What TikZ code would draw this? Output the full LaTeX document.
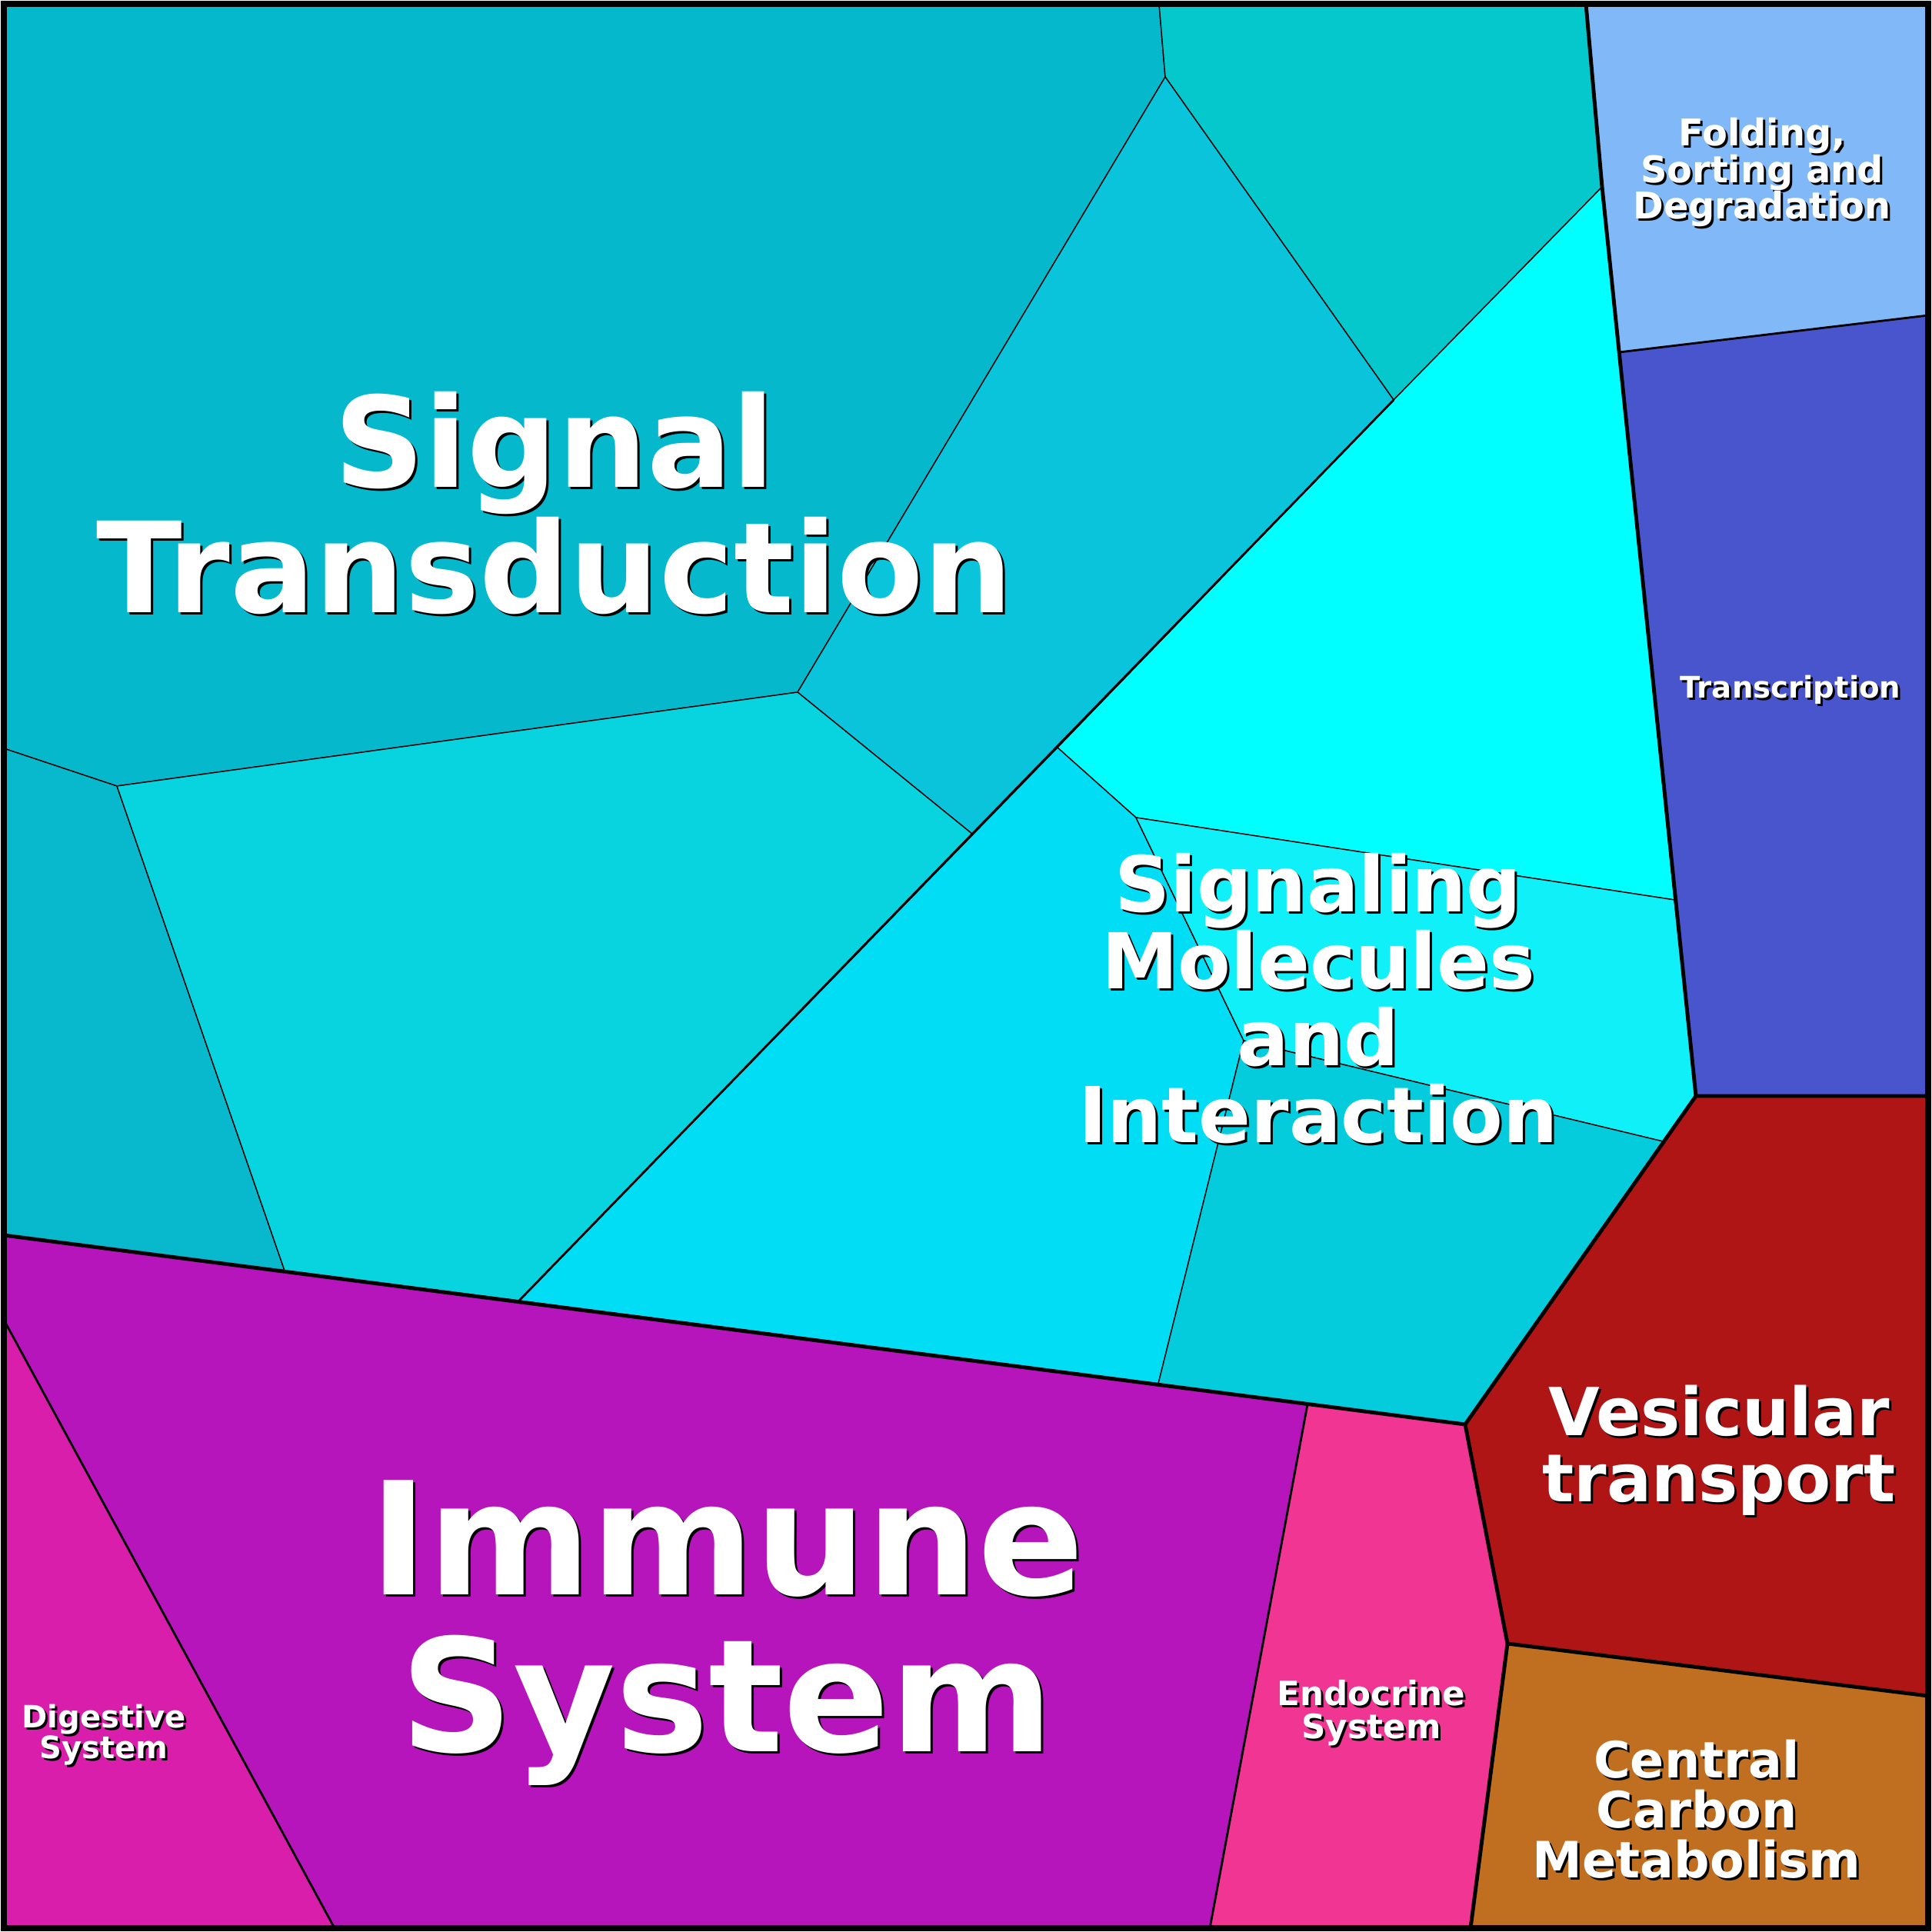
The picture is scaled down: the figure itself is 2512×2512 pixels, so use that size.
\documentclass[tikz,border=0pt]{standalone}
\usepackage{fontspec}
\setmainfont{DejaVu Sans}
\newcommand\mylbl[4]{%
  \node[shd,font=\fontsize{#3}{#3}\selectfont\bfseries] at ([shift={(3,3)}]#2) {#4};
  \node[lbl,font=\fontsize{#3}{#3}\selectfont\bfseries] (#1) at (#2) {#4};}
\begin{document}
\begin{tikzpicture}[x=0.01cm,y=-0.01cm,
  cell/.style={draw=black,line width=0.4pt,line join=round},
  lbl/.style={text=white,align=center,inner sep=0pt},
  shd/.style={text=black,align=center,inner sep=0pt}]
\useasboundingbox (0,0) rectangle (2512,2512);
\definecolor{cA}{HTML}{05B8CC}\definecolor{cB}{HTML}{05C8CC}
\definecolor{cC}{HTML}{0AC4DC}\definecolor{cD}{HTML}{00FFFF}
\definecolor{cE}{HTML}{08B8CC}\definecolor{cF}{HTML}{08D4E0}
\definecolor{cG}{HTML}{00DDF5}\definecolor{cH}{HTML}{10F0F8}
\definecolor{cI}{HTML}{05CCDC}\definecolor{cJ}{HTML}{80B8F8}
\definecolor{cK}{HTML}{4855CC}\definecolor{cL}{HTML}{B01515}
\definecolor{cM}{HTML}{C06E20}\definecolor{cN}{HTML}{F03592}
\definecolor{cO}{HTML}{B515BB}\definecolor{cP}{HTML}{D81EAA}
\fill[cell,fill=cA] (5,5)--(1507,5)--(1515,100)--(1037,900)--(152,1022)--(5,973)--cycle;
\fill[cell,fill=cB] (1507,5)--(2062,5)--(2083,243)--(1812,520)--(1515,100)--cycle;
\fill[cell,fill=cC] (1515,100)--(1812,520)--(1265,1085)--(1037,900)--cycle;
\fill[cell,fill=cD] (1812,520)--(2083,243)--(2177,1170)--(1477,1063)--(1375,972)--cycle;
\fill[cell,fill=cE] (5,973)--(152,1022)--(370,1652)--(5,1606)--cycle;
\fill[cell,fill=cF] (152,1022)--(1037,900)--(1265,1085)--(675,1691)--(370,1652)--cycle;
\fill[cell,fill=cG] (675,1691)--(1265,1085)--(1375,972)--(1477,1063)--(1617,1353)--(1506,1799)--cycle;
\fill[cell,fill=cH] (1477,1063)--(2177,1170)--(2205,1425)--(2162,1484)--(1617,1353)--cycle;
\fill[cell,fill=cI] (1617,1353)--(2162,1484)--(1905,1852)--(1506,1799)--cycle;
\fill[cell,fill=cJ] (2062,5)--(2507,5)--(2507,410)--(2105,458)--(2083,243)--cycle;
\fill[cell,fill=cK] (2105,458)--(2507,410)--(2507,1425)--(2205,1425)--cycle;
\fill[cell,fill=cL] (2205,1425)--(2507,1425)--(2507,2205)--(1960,2137)--(1905,1852)--cycle;
\fill[cell,fill=cM] (1960,2137)--(2507,2205)--(2507,2507)--(1912,2507)--cycle;
\fill[cell,fill=cN] (1700,1826)--(1905,1852)--(1960,2137)--(1912,2507)--(1573,2507)--cycle;
\fill[cell,fill=cO] (5,1606)--(1700,1826)--(1573,2507)--(435,2507)--(5,1716)--cycle;
\fill[cell,fill=cP] (5,1716)--(435,2507)--(5,2507)--cycle;
\draw[line width=0.8pt] (1812,520)--(675,1691) (2105,458)--(2507,410) (5,1716)--(435,2507) (1700,1826)--(1573,2507);
\draw[line width=1.4pt,line join=round] (2062,5)--(2083,243)--(2205,1425)--(1905,1852)--(5,1606);
\draw[line width=1.4pt,line join=round] (2507,1425)--(2205,1425) (1905,1852)--(1960,2137)--(2507,2205) (1960,2137)--(1912,2507);
\draw[line width=2.2pt] (5,5) rectangle (2507,2507);
\mylbl{st}{721,654}{46.5}{Signal\\Transduction}
\mylbl{im}{945,2123}{58}{Immune\\System}
\mylbl{sm}{1714,1298}{28.5}{Signaling\\Molecules\\and\\Interaction}
\mylbl{vt}{2235,1886}{24.5}{Vesicular\\transport}
\mylbl{cc}{2206,2352}{18.5}{Central\\Carbon\\Metabolism}
\mylbl{fs}{2291,224}{13.6}{Folding,\\Sorting and\\Degradation}
\mylbl{tr}{2328,897}{11}{Transcription}
\mylbl{en}{1783,2227}{12.4}{Endocrine\\System}
\mylbl{di}{135,2256}{11.4}{Digestive\\System}
\end{tikzpicture}
\end{document}
